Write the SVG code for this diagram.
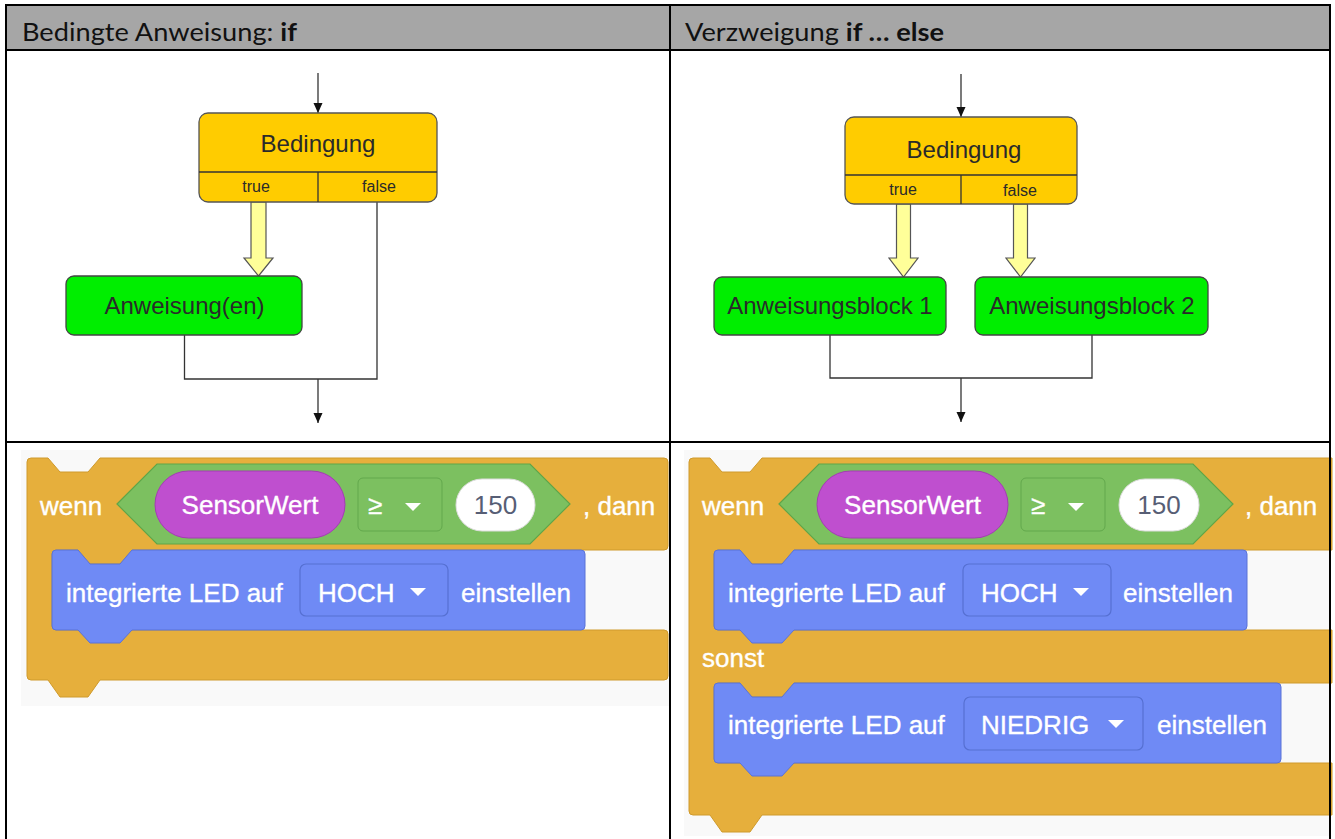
<svg xmlns="http://www.w3.org/2000/svg" width="1335" height="839" viewBox="0 0 1335 839">
<defs>
<style>
.hdr{font-family:Lato,"Liberation Sans",sans-serif;font-size:25px;fill:#111}
.fc{font-family:"Liberation Sans",Arial,sans-serif;fill:#2a2a2a;text-anchor:middle}
.cond{fill:#ffcc00;stroke:#555;stroke-width:1.3}
.stmt{fill:#00ee00;stroke:#444;stroke-width:1.3}
.yarr{fill:#ffff99;stroke:#555;stroke-width:1.2}
.ln{fill:none;stroke:#333;stroke-width:1.3}
.bk{font-family:"Liberation Sans",Arial,sans-serif;font-size:26px;fill:#fff;stroke:#fff;stroke-width:0.35}
.orange{fill:#e6af3c;stroke:#cf9a2c;stroke-width:1}
.blue{fill:#6f8af5;stroke:#5b73d6;stroke-width:1}
.hex{fill:#7cc060;stroke:#5fa548;stroke-width:1.2}
.pill{fill:#bf4fcf;stroke:#a33db3;stroke-width:1}
.gdd{fill:#7cc060;stroke:#62a84c;stroke-width:1}
.bdd{fill:#6f8af5;stroke:#5670d2;stroke-width:1.2}
.num{fill:#fff;stroke:#ddd;stroke-width:1}
.tri{fill:#fff}
.grid{stroke:#000;stroke-width:2;fill:none}
</style>
<marker id="ah" markerUnits="userSpaceOnUse" markerWidth="10" markerHeight="10" refX="10" refY="4.5" orient="auto">
<path d="M0,0 L10,4.5 L0,9 Z" fill="#111"/>
</marker>
</defs>

<rect x="0" y="0" width="1335" height="839" fill="#fff"/>
<!-- header row -->
<rect x="6" y="5" width="1324" height="45" fill="#a6a6a6"/>
<text class="hdr" x="22" y="41" textLength="275" lengthAdjust="spacingAndGlyphs">Bedingte Anweisung: <tspan font-weight="bold">if</tspan></text>
<text class="hdr" x="685" y="41" textLength="259" lengthAdjust="spacingAndGlyphs">Verzweigung <tspan font-weight="bold">if … else</tspan></text>

<!-- connectors -->
<g id="connectors">
<line class="ln" x1="318" y1="73" x2="318" y2="113" marker-end="url(#ah)"/>
<polyline class="ln" points="184.5,335 184.5,379 377,379 377,202"/>
<line class="ln" x1="318" y1="379" x2="318" y2="423" marker-end="url(#ah)"/>
<path class="yarr" d="M251,202 L266,202 L266,258 L273,258 L258.5,276 L244,258 L251,258 Z"/>

<line class="ln" x1="961" y1="74" x2="961" y2="117" marker-end="url(#ah)"/>
<polyline class="ln" points="830,335 830,378 1092,378 1092,335"/>
<line class="ln" x1="961" y1="378" x2="961" y2="422" marker-end="url(#ah)"/>
<path class="yarr" d="M896.5,204 L910.5,204 L910.5,258 L918,258 L903.5,277 L889,258 L896.5,258 Z"/>
<path class="yarr" d="M1013.5,204 L1027.5,204 L1027.5,258 L1035,258 L1020.5,277 L1006,258 L1013.5,258 Z"/>
</g>

<!-- left flowchart nodes -->
<g id="cond-left">
<rect class="cond" x="199" y="113" width="238" height="89" rx="9"/>
<line x1="199" y1="172" x2="437" y2="172" stroke="#333" stroke-width="1.3"/>
<line x1="318" y1="172" x2="318" y2="202" stroke="#333" stroke-width="1.3"/>
<text class="fc" x="318" y="152" font-size="24">Bedingung</text>
<text class="fc" x="256" y="192" font-size="16">true</text>
<text class="fc" x="379" y="192" font-size="16">false</text>
</g>
<g id="stmt-left">
<rect class="stmt" x="66" y="276" width="236" height="59" rx="8"/>
<text class="fc" x="184.5" y="314" font-size="24">Anweisung(en)</text>
</g>

<!-- right flowchart nodes -->
<g id="cond-right">
<rect class="cond" x="845" y="117" width="232" height="87" rx="9"/>
<line x1="845" y1="175" x2="1077" y2="175" stroke="#333" stroke-width="1.3"/>
<line x1="961" y1="175" x2="961" y2="204" stroke="#333" stroke-width="1.3"/>
<text class="fc" x="964" y="158" font-size="24">Bedingung</text>
<text class="fc" x="903" y="195" font-size="16">true</text>
<text class="fc" x="1020" y="196" font-size="16">false</text>
</g>
<g id="block1">
<rect class="stmt" x="714" y="277" width="232" height="58" rx="8"/>
<text class="fc" x="830" y="314" font-size="24">Anweisungsblock 1</text>
</g>
<g id="block2">
<rect class="stmt" x="975" y="277" width="233" height="58" rx="8"/>
<text class="fc" x="1092" y="314" font-size="24">Anweisungsblock 2</text>
</g>

<!-- Blockly if (left) -->
<g id="blockly-if">
<rect x="21" y="450" width="648" height="256" fill="#f9f9f9"/>
<path class="orange" d="M27,462 Q27,458 31,458 L48,458 L60,472 L88,472 L100,458 L664,458 Q668,458 668,462 L668,546 Q668,550 664,550 L132,550 L120,564 L90,564 L78,550 L56,550 Q52,550 52,554 L52,626 Q52,630 56,630 L664,630 Q668,630 668,634 L668,676 Q668,680 664,680 L100,680 L88,697 L60,697 L48,680 L31,680 Q27,680 27,676 Z"/>
<path class="hex" d="M117,504 L157,464 L530,464 L570,504 L530,544 L157,544 Z"/>
<rect class="pill" x="155" y="471" width="190" height="67" rx="33.5"/>
<rect class="gdd" x="358" y="478" width="84" height="53" rx="5"/>
<rect class="num" x="456" y="479" width="79" height="52" rx="26"/>
<text class="bk" x="40" y="515">wenn</text>
<text class="bk" x="250" y="514" text-anchor="middle">SensorWert</text>
<text class="bk" x="368" y="514">≥</text>
<path class="tri" d="M405,503 L421,503 L413,511 Z"/>
<text x="495.5" y="514" text-anchor="middle" font-family="'Liberation Sans',Arial,sans-serif" font-size="26" fill="#575e75">150</text>
<text class="bk" x="583" y="515">, dann</text>
<path class="blue" d="M52,554 Q52,550 56,550 L78,550 L90,564 L120,564 L132,550 L581,550 Q585,550 585,554 L585,626 Q585,630 581,630 L132,630 L120,643 L90,643 L78,630 L56,630 Q52,630 52,626 Z"/>
<rect class="bdd" x="300" y="564" width="148" height="52" rx="6"/>
<text class="bk" x="66" y="602">integrierte LED auf</text>
<text class="bk" x="318" y="602">HOCH</text>
<path class="tri" d="M410,588 L426,588 L418,596 Z"/>
<text class="bk" x="461" y="602">einstellen</text>
</g>

<!-- Blockly if else (right) -->
<g id="blockly-ifelse">
<rect x="684" y="450" width="645" height="386" fill="#f9f9f9"/>
<path class="orange" d="M689,462 Q689,458 693,458 L710,458 L722,472 L750,472 L762,458 L1332,458 L1332,550 L794,550 L782,564 L752,564 L740,550 L718,550 Q714,550 714,554 L714,626 Q714,630 718,630 L1332,630 L1332,683 L794,683 L782,697 L752,697 L740,683 L718,683 Q714,683 714,687 L714,759 Q714,763 718,763 L1332,763 L1332,815 L762,815 L750,832 L722,832 L710,815 L693,815 Q689,815 689,811 Z"/>
<path class="hex" d="M779,504 L819,464 L1193,464 L1233,504 L1193,544 L819,544 Z"/>
<rect class="pill" x="817" y="471" width="191" height="67" rx="33.5"/>
<rect class="gdd" x="1021" y="478" width="84" height="53" rx="5"/>
<rect class="num" x="1119" y="479" width="80" height="52" rx="26"/>
<text class="bk" x="702" y="515">wenn</text>
<text class="bk" x="912.5" y="514" text-anchor="middle">SensorWert</text>
<text class="bk" x="1031" y="514">≥</text>
<path class="tri" d="M1068,503 L1084,503 L1076,511 Z"/>
<text x="1159" y="514" text-anchor="middle" font-family="'Liberation Sans',Arial,sans-serif" font-size="26" fill="#575e75">150</text>
<text class="bk" x="1245" y="515">, dann</text>
<path class="blue" d="M714,554 Q714,550 718,550 L740,550 L752,564 L782,564 L794,550 L1243,550 Q1247,550 1247,554 L1247,626 Q1247,630 1243,630 L794,630 L782,643 L752,643 L740,630 L718,630 Q714,630 714,626 Z"/>
<rect class="bdd" x="963" y="564" width="148" height="52" rx="6"/>
<text class="bk" x="728" y="602">integrierte LED auf</text>
<text class="bk" x="981" y="602">HOCH</text>
<path class="tri" d="M1073,588 L1089,588 L1081,596 Z"/>
<text class="bk" x="1123" y="602">einstellen</text>
<text class="bk" x="702" y="667">sonst</text>
<path class="blue" d="M714,687 Q714,683 718,683 L740,683 L752,697 L782,697 L794,683 L1277,683 Q1281,683 1281,687 L1281,759 Q1281,763 1277,763 L794,763 L782,776 L752,776 L740,763 L718,763 Q714,763 714,759 Z"/>
<rect class="bdd" x="964" y="697" width="179" height="53" rx="6"/>
<text class="bk" x="728" y="734">integrierte LED auf</text>
<text class="bk" x="981" y="734">NIEDRIG</text>
<path class="tri" d="M1108,720 L1124,720 L1116,728 Z"/>
<text class="bk" x="1157" y="734">einstellen</text>
</g>

<!-- table grid -->
<g id="table">
<line class="grid" x1="6" y1="5" x2="1330" y2="5"/>
<line class="grid" x1="6" y1="50" x2="1330" y2="50"/>
<line class="grid" x1="6" y1="442" x2="1330" y2="442"/>
<line class="grid" x1="6" y1="4" x2="6" y2="839"/>
<line class="grid" x1="670" y1="4" x2="670" y2="839"/>
<line class="grid" x1="1330" y1="4" x2="1330" y2="839"/>
</g>
</svg>
